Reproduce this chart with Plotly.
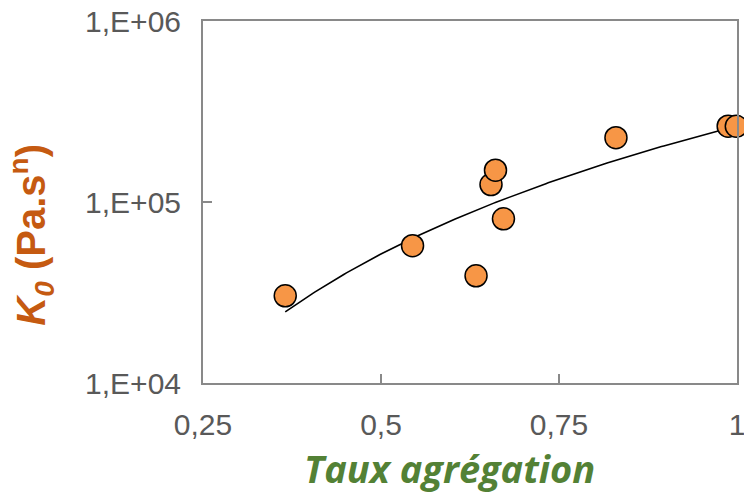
import numpy as np
import plotly.graph_objects as go

# Aggregation rate vs consistency index K0 (Pa.s^n)
taux = [0.3655, 0.5443, 0.6335, 0.6545, 0.6608, 0.6720, 0.8300, 0.9876, 0.9990]
k0 = [30300, 57400, 39100, 124800, 150000, 80700, 226800, 262400, 262000]

x_ticks = [0.25, 0.5, 0.75, 1.0]
x_tick_labels = ["0,25", "0,5", "0,75", "1"]
y_ticks = [1e4, 1e5, 1e6]
y_tick_labels = ["1,E+04", "1,E+05", "1,E+06"]

# Power-law trend line: K0 = a * taux^b (least squares in log-log space)
b, ln_a = np.polyfit(np.log(taux), np.log(k0), 1)
x_fit = np.linspace(min(taux), max(taux), 200)
y_fit = np.exp(ln_a) * x_fit ** b

fig = go.Figure()
fig.add_trace(go.Scatter(
    x=x_fit, y=y_fit, mode="lines",
    line=dict(color="black", width=1.6),
    hoverinfo="skip", showlegend=False,
))
fig.add_trace(go.Scatter(
    x=taux, y=k0, mode="markers",
    marker=dict(size=22, color="#F79646", line=dict(color="black", width=1.5)),
    cliponaxis=False, showlegend=False,
))

axis_font = dict(family="Liberation Sans, Arial, sans-serif", size=30, color="#595959")

fig.update_xaxes(
    range=[0.25, 1.0], tickvals=x_ticks, ticktext=x_tick_labels,
    showgrid=False, zeroline=False, automargin=False,
    showline=True, linecolor="#898989", linewidth=2, mirror=True,
    ticks="inside", ticklen=9, tickwidth=2, tickcolor="#898989",
    tickfont=axis_font, ticklabelstandoff=14, ticklabeloverflow="allow",
)
fig.update_yaxes(
    type="log", range=[4, 6], tickvals=y_ticks, ticktext=y_tick_labels,
    showgrid=False, zeroline=False, automargin=False,
    showline=True, linecolor="#898989", linewidth=2, mirror=True,
    ticks="inside", ticklen=9, tickwidth=2, tickcolor="#898989",
    tickfont=axis_font, ticklabelstandoff=14, ticklabeloverflow="allow",
)

fig.add_annotation(
    text="<b><i>Taux agrégation</i></b>",
    xref="paper", yref="paper", x=0.462, y=-0.235,
    xanchor="center", yanchor="middle", showarrow=False,
    font=dict(family="Open Sans, sans-serif", size=38, color="#538135"),
)
fig.add_annotation(
    text="<b><i>K</i><sub><i>0</i></sub> (Pa.s<sup>n</sup>)</b>",
    xref="paper", yref="paper", x=-0.322, y=0.41,
    xanchor="center", yanchor="middle", textangle=-90, showarrow=False,
    font=dict(family="Liberation Sans, Arial, sans-serif", size=40, color="#C55A11"),
)

fig.update_layout(
    width=744, height=494,
    margin=dict(l=203, r=7, t=21, b=111, autoexpand=False),
    paper_bgcolor="white", plot_bgcolor="white",
)

fig.write_html("out.html")
